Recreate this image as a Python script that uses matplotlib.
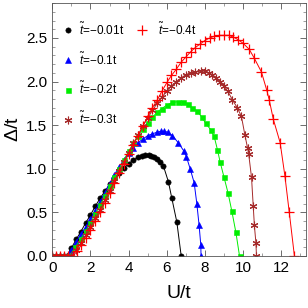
import numpy as np
import matplotlib.pyplot as plt
from matplotlib.lines import Line2D
from matplotlib.ticker import MultipleLocator

plt.rcParams['font.family'] = ['Liberation Sans', 'DejaVu Sans']
plt.rcParams['mathtext.fontset'] = 'custom'
plt.rcParams['mathtext.it'] = 'Liberation Sans:italic'
plt.rcParams['mathtext.rm'] = 'Liberation Sans'

# t' = -0.01t
u1 = [0, 0.2, 0.4, 0.6, 0.75, 1.0, 1.25, 1.5, 1.75, 2.0, 2.25, 2.5, 2.75, 3.0, 3.25, 3.5,
      3.75, 4.0, 4.25, 4.5, 4.7, 4.87, 5.05, 5.2, 5.35, 5.5, 5.65, 5.83, 6.09, 6.27, 6.53, 6.76]
d1 = [0, 0, 0, 0, 0, 0.09, 0.19, 0.28, 0.38, 0.47, 0.57, 0.66, 0.74, 0.82, 0.89, 0.95,
      1.01, 1.06, 1.10, 1.13, 1.15, 1.16, 1.16, 1.15, 1.13, 1.11, 1.08, 1.03, 0.85, 0.66, 0.39, 0]

# t' = -0.1t
u2 = [0, 0.2, 0.4, 0.6, 0.8, 1.0, 1.25, 1.5, 1.75, 2.0, 2.25, 2.5, 2.75, 3.0, 3.25, 3.5,
      3.75, 4.0, 4.25, 4.5, 4.75, 5.0, 5.25, 5.5, 5.7, 5.86, 6.05, 6.3, 6.6, 6.91, 7.03, 7.23,
      7.44, 7.58, 7.7, 7.79, 7.8]
d2 = [0, 0, 0, 0, 0, 0.07, 0.16, 0.25, 0.33, 0.42, 0.52, 0.62, 0.72, 0.83, 0.93, 1.02,
      1.10, 1.18, 1.24, 1.30, 1.34, 1.38, 1.40, 1.42, 1.43, 1.43, 1.42, 1.38, 1.30, 1.20, 1.14, 1.0,
      0.84, 0.60, 0.35, 0.12, 0]

# t' = -0.2t
u3 = [0, 0.2, 0.4, 0.6, 0.9, 1.2, 1.5, 1.75, 2.0, 2.25, 2.5, 2.75, 3.0, 3.25, 3.5, 3.75,
      4.0, 4.25, 4.5, 4.75, 5.0, 5.25, 5.5, 5.75, 6.0, 6.3, 6.6, 6.85, 7.1, 7.35, 7.6, 7.85,
      8.05, 8.3, 8.49, 8.66, 8.8, 9.01, 9.22, 9.42, 9.63, 9.82]
d3 = [0, 0, 0, 0, 0, 0.1, 0.2, 0.29, 0.38, 0.48, 0.58, 0.69, 0.80, 0.90, 1.0, 1.10,
      1.20, 1.29, 1.38, 1.46, 1.53, 1.59, 1.65, 1.69, 1.73, 1.76, 1.77, 1.76, 1.74, 1.70, 1.66, 1.59,
      1.52, 1.45, 1.37, 1.22, 1.08, 0.90, 0.72, 0.51, 0.27, 0]

# t' = -0.3t
u4 = [0, 0.2, 0.4, 0.6, 0.8, 1.0, 1.25, 1.5, 1.75, 2.0, 2.25, 2.5, 2.75, 3.0, 3.25, 3.5,
      3.75, 4.0, 4.25, 4.5, 4.75, 5.0, 5.25, 5.5, 5.75, 6.0, 6.25, 6.5, 6.75, 7.0, 7.25, 7.5,
      7.8, 8.0, 8.2, 8.4, 8.6, 8.8, 9.0, 9.2, 9.45, 9.7, 9.92, 10.1, 10.24, 10.3, 10.45, 10.54,
      10.6, 10.68, 10.71]
d4 = [0, 0, 0, 0, 0, 0, 0.07, 0.15, 0.24, 0.33, 0.43, 0.53, 0.64, 0.75, 0.86, 0.97,
      1.08, 1.18, 1.29, 1.39, 1.49, 1.58, 1.67, 1.75, 1.82, 1.89, 1.95, 2.0, 2.04, 2.08, 2.10, 2.11,
      2.12, 2.12, 2.10, 2.08, 2.04, 2.0, 1.95, 1.89, 1.79, 1.70, 1.60, 1.39, 1.24, 1.17, 0.90, 0.57,
      0.35, 0.15, 0]

# t' = -0.4t
u5 = [0, 0.2, 0.4, 0.6, 0.8, 1.1, 1.3, 1.5, 1.75, 2.0, 2.25, 2.5, 2.75, 3.0, 3.25, 3.5,
      3.75, 4.0, 4.25, 4.5, 4.75, 5.0, 5.25, 5.51, 5.75, 6.04, 6.25, 6.5, 6.75, 7.0, 7.25, 7.5,
      7.75, 8.0, 8.25, 8.5, 8.75, 9.0, 9.25, 9.5, 9.75, 10.0, 10.33, 10.59, 10.97, 11.25, 11.38,
      11.59, 11.95, 12.2, 12.43, 12.7]
d5 = [0, 0, 0, 0, 0, 0, 0.06, 0.12, 0.21, 0.30, 0.40, 0.50, 0.61, 0.72, 0.84, 0.95,
      1.06, 1.17, 1.27, 1.38, 1.49, 1.60, 1.70, 1.79, 1.89, 2.0, 2.07, 2.14, 2.22, 2.28, 2.34, 2.39,
      2.43, 2.47, 2.50, 2.52, 2.53, 2.53, 2.53, 2.51, 2.48, 2.44, 2.37, 2.27, 2.11, 1.90, 1.79,
      1.57, 1.30, 0.92, 0.50, 0]

asterisk = (6, 2, 0)
series = [
    (u1, d1, 'black', 'o', 3.8, 0.4, r'$\tilde{t}$=$-$0.01t'),
    (u2, d2, 'blue', '^', 4.2, 0.4, r'$\tilde{t}$=$-$0.1t'),
    (u3, d3, '#00ee00', 's', 3.6, 0.4, r'$\tilde{t}$=$-$0.2t'),
    (u4, d4, '#a52a2a', asterisk, 5.5, 0.8, r'$\tilde{t}$=$-$0.3t'),
    (u5, d5, 'red', '+', 7.5, 0.9, r'$\tilde{t}$=$-$0.4t'),
]

fig = plt.figure(figsize=(3.08, 3.08), dpi=100)
ax = fig.add_axes([0.17, 0.169, 0.823, 0.821])

handles = []
for u, d, c, m, ms, mew, lab in series:
    ax.plot(u, d, color=c, marker=m, markersize=ms, linewidth=0.7, markeredgewidth=mew)
    handles.append(Line2D([], [], color=c, marker=m, markersize=ms, linestyle='none',
                          markeredgewidth=mew, label=lab))

ax.set_xlim(0, 13.3)
ax.set_ylim(0, 2.9)
ax.xaxis.set_major_locator(MultipleLocator(2))
ax.xaxis.set_minor_locator(MultipleLocator(1))
ax.yaxis.set_major_locator(MultipleLocator(0.5))
ax.yaxis.set_minor_locator(MultipleLocator(0.1))
ax.tick_params(which='both', direction='in', top=True, right=True, labelsize=11)
ax.tick_params(which='major', length=4, width=0.6, color='#555555')
ax.tick_params(which='minor', length=2, width=0.5, color='#777777')
for s in ax.spines.values():
    s.set_linewidth(0.6)
    s.set_color('#555555')

ax.set_xlabel('U/t', fontsize=14, labelpad=7)
ax.set_ylabel(r'$\Delta$/t', fontsize=14, labelpad=3)

leg1 = ax.legend(handles=handles[:4], loc='upper left', bbox_to_anchor=(-0.005, 0.97),
                 frameon=False, fontsize=8.5, labelspacing=1.15, handlelength=1.0,
                 handletextpad=0.5)
ax.add_artist(leg1)
ax.legend(handles=handles[4:], loc='upper left', bbox_to_anchor=(0.29, 0.97),
          frameon=False, fontsize=8.5, handlelength=1.0, handletextpad=0.8)

fig.savefig('out.png', dpi=100)
